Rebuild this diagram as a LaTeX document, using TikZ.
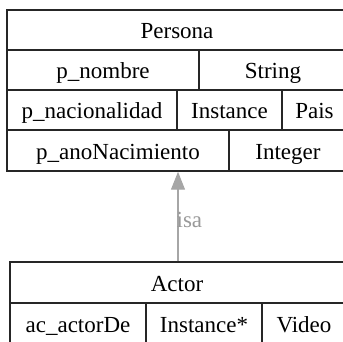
\documentclass[tikz,border=0pt]{standalone}
\usepackage{fontspec}
\setmainfont{Liberation Serif}
\usetikzlibrary{arrows.meta}

\begin{document}
\begin{tikzpicture}[
        x=1pt, y=-1pt,
        font=\fontsize{23}{26}\selectfont,
        cell/.style={draw=black!85, line width=1.4pt, minimum height=40pt, inner sep=0pt,
            text height=17pt, text depth=0pt},
        tallcell/.style={cell, minimum height=41pt},
        isaarrow/.style={draw=black!35, line width=1.3pt, -{Triangle[length=18pt, width=14pt]}},
        isalabel/.style={text=black!40, inner sep=0pt}
    ]

    \useasboundingbox (0,0) rectangle (343,341);

    % --- Class Persona ---
    \node[cell, minimum width=340pt] (persona) at (177,30) {Persona};
    \node[cell, minimum width=192pt] (pnombre) at (103,70) {p\_nombre};
    \node[cell, minimum width=148pt] (pnombretype) at (273,70) {String};
    \node[cell, minimum width=170pt] (pnac) at (92,110) {p\_nacionalidad};
    \node[cell, minimum width=105pt] (pnactype) at (229.5,110) {Instance};
    \node[cell, minimum width=65pt] (pnacclass) at (314.5,110) {Pais};
    \node[tallcell, minimum width=222pt] (pano) at (118,150.5) {p\_anoNacimiento};
    \node[tallcell, minimum width=118pt] (panotype) at (288,150.5) {Integer};

    % --- Class Actor ---
    \node[tallcell, minimum width=334pt] (actor) at (177,282.5) {Actor};
    \node[tallcell, minimum width=136pt] (acactor) at (78,324) {ac\_actorDe};
    \node[tallcell, minimum width=116pt] (acactortype) at (204,324) {Instance*};
    \node[tallcell, minimum width=84pt] (acactorclass) at (304,324) {Video};

    % --- Generalisation ---
    \draw[isaarrow] ([xshift=1pt]actor.north) -- ([xshift=1pt]actor.north |- pano.south)
        node[midway, anchor=west, isalabel, xshift=-2pt, yshift=-3pt] {isa};

\end{tikzpicture}
\end{document}
